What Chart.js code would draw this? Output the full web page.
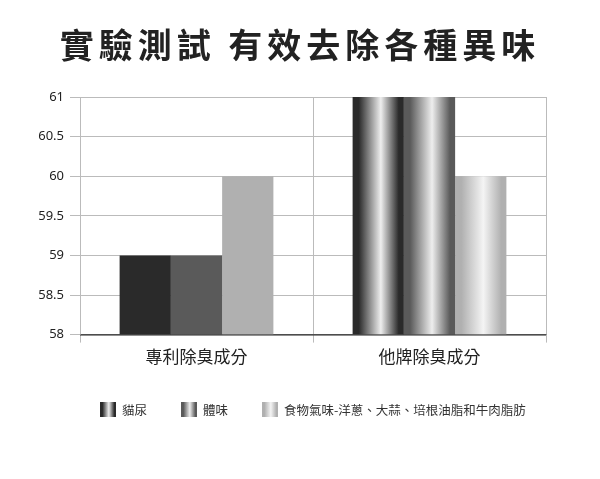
<!DOCTYPE html>
<html><head><meta charset="utf-8">
<script src="https://cdn.jsdelivr.net/npm/chart.js@4"></script>
<style>
body{margin:0;background:#fff;font-family:"Noto Sans CJK TC","Noto Sans",sans-serif}
#wrap{position:relative;width:600px;height:479px}
#title{position:absolute;top:19px;left:0;width:600px;text-align:center;font-size:34px;font-weight:bold;color:#222;letter-spacing:5px}
#legend{position:absolute;top:400px;left:100px;font-size:12.5px;color:#333;display:flex}
#legend span{display:inline-flex;align-items:center;margin-right:34px}
#legend i{display:inline-block;width:16px;height:15px;margin-right:6px}
</style></head><body>
<div id="wrap">
<canvas id="c" width="600" height="479"></canvas>
<div id="title">實驗測試 有效去除各種異味</div>
<div id="legend"></div>
</div>
<script>
const categories = ["專利除臭成分", "他牌除臭成分"];
const seriesNames = ["貓尿", "體味", "食物氣味-洋蔥、大蒜、培根油脂和牛肉脂肪"];
const seriesValues = [[59, 61], [59, 61], [60, 60]];
const yTicks = [58, 58.5, 59, 59.5, 60, 60.5, 61];

const shades = [["#2a2a2a", "#eeeeee"], ["#5a5a5a", "#eeeeee"], ["#b0b0b0", "#f4f4f4"]];

const lg = document.getElementById("legend");
seriesNames.forEach((n, i) => {
  const [d, l] = shades[i];
  lg.innerHTML += `<span><i style="background:linear-gradient(to right,${d} 15%,${l} 55%,${d} 90%)"></i>${n}</span>`;
});

new Chart(document.getElementById("c"), {
  type: "bar",
  data: {
    labels: categories,
    datasets: seriesNames.map((n, i) => ({
      label: n, data: seriesValues[i], backgroundColor: shades[i][0],
      categoryPercentage: 0.66, barPercentage: 1
    }))
  },
  options: {
    responsive: false, animation: false,
    layout: { padding: { top: 97, right: 54, bottom: 108, left: 0 } },
    plugins: { legend: { display: false }, title: { display: false }, tooltip: { enabled: false } },
    scales: {
      x: {
        grid: { display: true, drawOnChartArea: true, color: "#bbb", offset: true, tickLength: 8 },
        border: { color: "#555" },
        ticks: { color: "#222", font: { size: 17, family: "Noto Sans CJK TC" }, padding: 4 }
      },
      y: {
        min: 58, max: 61,
        afterBuildTicks: s => { s.ticks = yTicks.map(v => ({ value: v })); },
        afterFit: s => { s.width = 80; },
        grid: { color: "#bbb", tickLength: 10 },
        border: { color: "#bbb" },
        ticks: { color: "#222", font: { size: 13, family: "Noto Sans" }, padding: 6, callback: v => String(v) }
      }
    }
  },
  plugins: [{
    id: "cylinders",
    beforeDatasetsDraw(chart) {
      const ctx = chart.ctx;
      chart.data.datasets.forEach((ds, i) => {
        const [d, l] = shades[i];
        chart.getDatasetMeta(i).data.forEach(bar => {
          const x0 = bar.x - bar.width / 2, x1 = bar.x + bar.width / 2;
          const g = ctx.createLinearGradient(x0, 0, x1, 0);
          g.addColorStop(0, d); g.addColorStop(0.12, d);
          g.addColorStop(0.55, l); g.addColorStop(0.9, d); g.addColorStop(1, d);
          bar.options.backgroundColor = g;
        });
      });
    }
  }, {
    id: "frame",
    afterDraw(chart) {
      const { ctx, chartArea: a } = chart;
      ctx.save(); ctx.strokeStyle = "#bbb"; ctx.lineWidth = 1;
      ctx.beginPath(); ctx.moveTo(a.right + 0.5, a.top); ctx.lineTo(a.right + 0.5, a.bottom); ctx.stroke();
      ctx.strokeStyle = "#444"; ctx.beginPath(); ctx.moveTo(a.left, a.bottom + 0.5); ctx.lineTo(a.right, a.bottom + 0.5); ctx.stroke();
      ctx.restore();
    }
  }]
});
</script>
</body></html>
